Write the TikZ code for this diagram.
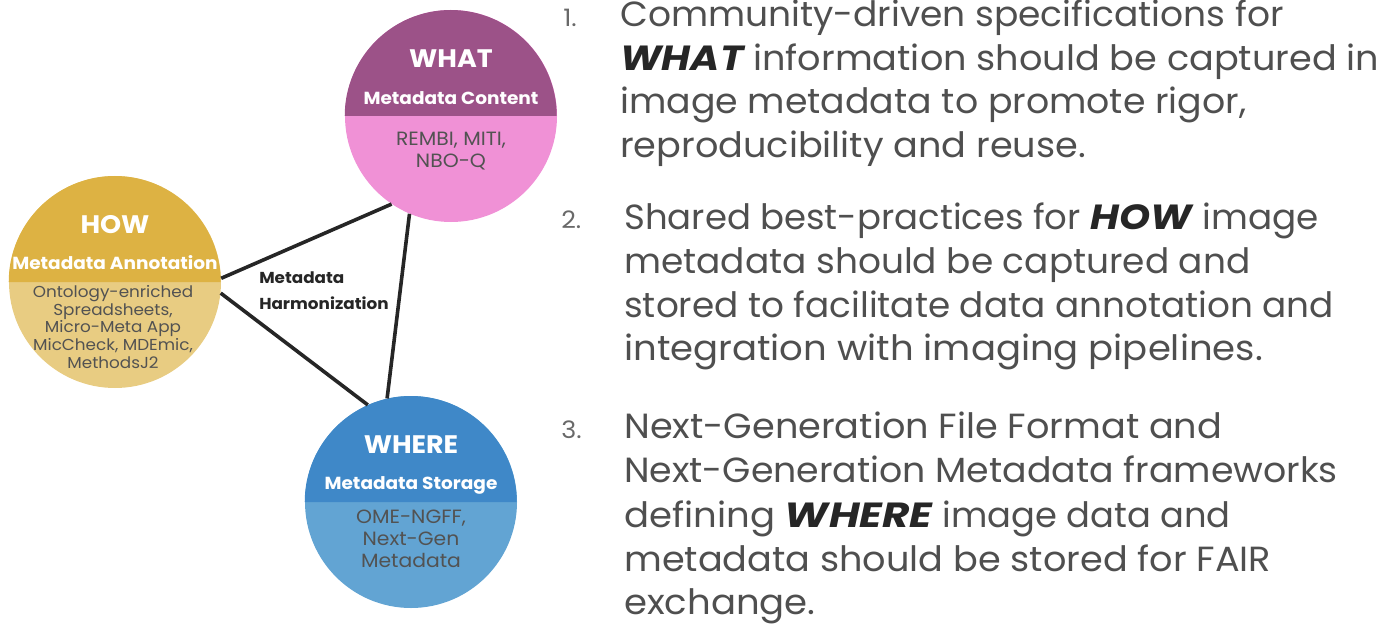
\documentclass[tikz,border=0pt]{standalone}
\usepackage{fontspec}
\setmainfont[FakeStretch=1.06]{Poppins}
\definecolor{whatdark}{HTML}{9C5288}
\definecolor{whatlight}{HTML}{F091D6}
\definecolor{howdark}{HTML}{DDB243}
\definecolor{howlight}{HTML}{E8CC82}
\definecolor{wheredark}{HTML}{3F88C8}
\definecolor{wherelight}{HTML}{62A4D3}
\definecolor{bodygrey}{HTML}{4F4F4F}
\newcommand{\kw}[1]{\scalebox{1.07}[1]{\textbf{\textit{\textcolor{black!85}{#1}}}}}
\newcommand{\sx}[2]{\scalebox{#1}[1]{#2}}
\tikzset{
  x=0.75pt,y=-0.75pt,
  disc/.style={circle,inner sep=0pt,minimum size=159pt,fill=#1},
  head/.style={text=white,font=\fontsize{19}{21}\selectfont\bfseries,inner sep=0pt},
  sub/.style={text=white,font=\fontsize{13.1}{15}\selectfont\bfseries,inner sep=0pt},
  body/.style={text=black!68,font=\fontsize{11.9}{13.3}\selectfont,align=center,inner sep=0pt},
  bigbody/.style={text=black!68,font=\fontsize{14.4}{16.5}\selectfont,align=center,inner sep=0pt},
  link/.style={line width=2.7pt,draw=black!85},
  harm/.style={text=black!85,font=\fontsize{11.9}{19.5}\selectfont\bfseries,align=left,inner sep=0pt,anchor=west},
  num/.style={text=bodygrey!85,font=\fontsize{18}{20}\selectfont,inner sep=0pt,anchor=west},
  line/.style={text=bodygrey,font=\fontsize{26.2}{28}\selectfont,inner sep=0pt,anchor=base west},
}
\begin{document}
\begin{tikzpicture}
\useasboundingbox (0,0) rectangle (1391,624);
% discs
\node[disc=whatlight] (what) at (451,116) {};
\node[disc=howlight] (how) at (115,282) {};
\node[disc=wherelight] (where) at (411,502) {};
\fill[whatdark] (what.west) arc[start angle=180,end angle=360,radius=106] -- cycle;
\fill[howdark] (how.west) arc[start angle=180,end angle=360,radius=106] -- cycle;
\fill[wheredark] (where.west) arc[start angle=180,end angle=360,radius=106] -- cycle;
% connectors
\draw[link] (how.2.7) -- (what.236);
\draw[link] (how.-6.5) -- (where.114);
\draw[link] (what.247.7) -- (where.103);
% circle text
\node[head] (whathead) at (451,59) {WHAT};
\node[sub] (whatsub) at (451,98) {Metadata Content};
\node[bigbody] (whatbody) at (451,151) {REMBI, MITI,\\NBO-Q};
\node[head] (howhead) at (115,225) {HOW};
\node[sub] (howsub) at (115,263) {Metadata Annotation};
\node[body] (howbody) at (113,327) {Ontology-enriched\\Spreadsheets,\\Micro-Meta App\\MicCheck, MDEmic,\\MethodsJ2};
\node[head] (wherehead) at (411,445) {WHERE};
\node[sub] (wheresub) at (411,485) {Metadata Storage};
\node[bigbody] (wherebody) at (411,539) {OME-NGFF,\\Next-Gen\\Metadata};
\node[harm] (harm) at (259,291) {Metadata\\Harmonization};
% list
\node[num] (n1) at (563,18) {1.};
\node[line] (a1) at (620,27) {\sx{.973}{Community-driven specifications for}};
\node[line] (a2) at (620,71) {\kw{WHAT} \sx{.99}{information should be captured in}};
\node[line] (a3) at (620,114) {\sx{.98}{image metadata to promote rigor,}};
\node[line] (a4) at (620,158) {\sx{.99}{reproducibility and reuse.}};
\node[num] (n2) at (561,220) {2.};
\node[line] (b1) at (624,229) {\sx{.958}{Shared best-practices for} \kw{HOW} \sx{.966}{image}};
\node[line] (b2) at (624,273) {\sx{.97}{metadata should be captured and}};
\node[line] (b3) at (624,317) {\sx{.967}{stored to facilitate data annotation and}};
\node[line] (b4) at (624,360) {integration with imaging pipelines.};
\node[num] (n3) at (561,430) {3.};
\node[line] (c1) at (624,438) {\sx{.99}{Next-Generation File Format and}};
\node[line] (c2) at (624,482) {\sx{.98}{Next-Generation Metadata frameworks}};
\node[line] (c3) at (624,527) {defining \sx{1.06}{\kw{WHERE}} \sx{.953}{image data and}};
\node[line] (c4) at (624,571) {\sx{.99}{metadata should be stored for FAIR}};
\node[line] (c5) at (624,614) {exchange.};
\end{tikzpicture}
\end{document}
